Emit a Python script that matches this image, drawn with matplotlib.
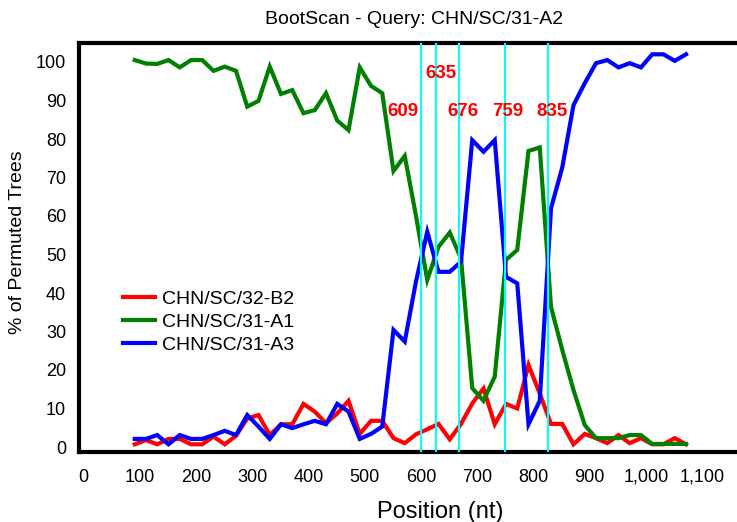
import matplotlib
matplotlib.use("Agg")
import matplotlib.pyplot as plt
import matplotlib.transforms as mtransforms

plt.rcParams['font.family'] = ['Liberation Sans', 'DejaVu Sans']

positions = [100, 120, 140, 160, 180, 200, 220, 240, 260, 280,
             300, 320, 340, 360, 380, 400, 420, 440, 460, 480,
             500, 520, 540, 560, 580, 600, 620, 640, 660, 680,
             700, 720, 740, 760, 780, 800, 820, 840, 860, 880,
             900, 920, 940, 960, 980, 1000, 1020, 1040, 1060, 1080]

b2 = [0.7, 1.8, 0.7, 2.1, 2.1, 0.7, 0.7, 2.7, 0.7, 2.9,
      7.4, 8.3, 3.1, 5.9, 5.9, 11.2, 9.2, 6.2, 8.7, 12.0,
      3.4, 6.8, 6.8, 2.3, 1.0, 3.3, 4.6, 6.0, 2.0, 6.0,
      11.3, 15.2, 5.9, 11.2, 10.0, 21.3, 13.9, 6.0, 6.0, 0.7,
      3.4, 2.3, 1.0, 3.1, 1.0, 2.3, 0.7, 0.7, 2.3, 0.7]

a1 = [100.5, 99.6, 99.5, 100.5, 98.6, 100.5, 100.5, 97.7, 98.8, 97.7,
      88.4, 89.9, 98.8, 91.7, 92.7, 86.7, 87.5, 91.9, 84.8, 82.3,
      98.6, 93.8, 91.9, 71.7, 75.6, 60.0, 43.4, 52.0, 55.7, 49.0,
      15.3, 12.0, 18.3, 48.6, 51.2, 76.9, 77.8, 36.4, 25.2, 14.8,
      5.7, 2.3, 2.3, 2.3, 3.1, 3.1, 0.8, 0.8, 0.8, 0.8]

a3 = [2.1, 2.1, 3.1, 0.7, 3.1, 2.1, 2.1, 3.1, 4.2, 3.1,
      8.3, 5.3, 2.1, 5.9, 4.9, 5.9, 6.8, 5.9, 11.2, 9.2,
      2.1, 3.4, 5.3, 30.4, 27.4, 43.0, 55.9, 45.5, 45.5, 48.1,
      79.7, 76.7, 79.7, 44.2, 42.5, 5.9, 12.0, 62.0, 72.6, 88.8,
      94.5, 99.7, 100.5, 98.6, 99.7, 98.6, 102.0, 102.0, 100.3, 102.0]

breakpoints = [609, 635, 676, 759, 835]
bp_label_x = [576, 644, 684, 763, 842]
bp_label_y = [87.1, 97.0, 87.1, 87.1, 87.1]

xticks = [0, 100, 200, 300, 400, 500, 600, 700, 800, 900, 1000, 1100]
xticklabels = ['0', '100', '200', '300', '400', '500', '600', '700', '800', '900', '1,000', '1,100']
yticks = [0, 10, 20, 30, 40, 50, 60, 70, 80, 90, 100]

fig = plt.figure(figsize=(7.37, 5.22), dpi=100)
W, H = 737, 522
ax_l, ax_r, ax_t, ax_b = 78.5, 737, 43, 452
ax = fig.add_axes([ax_l / W, 1 - ax_b / H, (ax_r - ax_l) / W, (ax_b - ax_t) / H])

lw = 3.0
ax.plot(positions, b2, color='#ff0000', lw=lw, label='CHN/SC/32-B2', solid_joinstyle='miter', zorder=3)
ax.plot(positions, a1, color='#008000', lw=lw, label='CHN/SC/31-A1', solid_joinstyle='miter', zorder=3)
ax.plot(positions, a3, color='#0000ff', lw=lw, label='CHN/SC/31-A3', solid_joinstyle='miter', zorder=3)

for bp in breakpoints:
    ax.axvline(bp, color='#00ffff', lw=1.5, zorder=4)
for bp, lx, ly in zip(breakpoints, bp_label_x, bp_label_y):
    ax.text(lx, ly, str(bp), color='#ff0000', fontsize=13.5, fontweight='bold',
            ha='center', va='center', zorder=5)

ax.set_xlim(0, (ax_r - ax_l) / 0.5625)
ax.set_ylim((447 - 452) / 3.85, (447 - 43) / 3.85)

ax.set_xticks(xticks)
ax.set_xticklabels(xticklabels)
ax.set_yticks(yticks)
ax.tick_params(axis='both', length=0, labelsize=13)
ax.tick_params(axis='x', pad=12)
ax.tick_params(axis='y', pad=9)
offset = mtransforms.ScaledTranslation(5 / 100, 0, fig.dpi_scale_trans)
for lab in ax.get_xticklabels():
    lab.set_transform(lab.get_transform() + offset)

for s in ['left', 'top', 'bottom']:
    ax.spines[s].set_linewidth(3)
    ax.spines[s].set_color('black')
ax.spines['right'].set_visible(False)

ax.set_xlabel('Position (nt)', fontsize=17)
ax.xaxis.set_label_coords((440 - ax_l) / (ax_r - ax_l), (ax_b - 511.7) / (ax_b - ax_t))
ax.set_ylabel('% of Permuted Trees', fontsize=14)
ax.yaxis.set_label_coords((18 - ax_l) / (ax_r - ax_l), (ax_b - 242) / (ax_b - ax_t))
ax.xaxis.label.set_va('center')
ax.yaxis.label.set_va('center')

fig.text(414 / W, 1 - 20 / H, 'BootScan - Query: CHN/SC/31-A2', fontsize=14,
         ha='center', va='center')

leg = ax.legend(loc='upper left',
                bbox_to_anchor=((122.7 - ax_l) / (ax_r - ax_l), (ax_b - 290) / (ax_b - ax_t)),
                frameon=False, fontsize=14, handlelength=1.65, handletextpad=0.36,
                labelspacing=0.28, borderpad=0, borderaxespad=0)

fig.savefig('out.png', dpi=100)
